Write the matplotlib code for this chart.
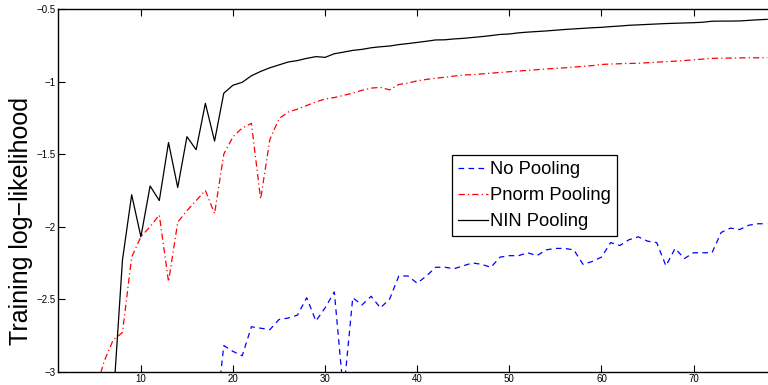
import matplotlib
matplotlib.use("Agg")
import matplotlib.pyplot as plt

plt.rcParams['font.family'] = ['Liberation Sans', 'DejaVu Sans']

# epochs for each series
nin_x = list(range(7, 79))
nin_y = [-3.2, -2.23, -1.78, -2.07, -1.72, -1.82, -1.42, -1.73, -1.38, -1.47,
         -1.15, -1.41, -1.08, -1.025, -1.005, -0.96, -0.93, -0.905, -0.885, -0.865,
         -0.855, -0.84, -0.828, -0.833, -0.808, -0.797, -0.785, -0.778, -0.767, -0.76,
         -0.755, -0.745, -0.738, -0.73, -0.722, -0.713, -0.712, -0.706, -0.702, -0.696,
         -0.69, -0.683, -0.675, -0.672, -0.664, -0.659, -0.655, -0.651, -0.646, -0.641,
         -0.637, -0.633, -0.629, -0.626, -0.621, -0.617, -0.612, -0.609, -0.606, -0.603,
         -0.6, -0.598, -0.596, -0.594, -0.591, -0.584, -0.583, -0.583, -0.582, -0.578,
         -0.574, -0.571]

pnorm_x = list(range(5, 79))
pnorm_y = [-3.15, -2.93, -2.78, -2.73, -2.21, -2.07, -2.00, -1.92, -2.38, -1.97,
           -1.89, -1.82, -1.75, -1.91, -1.50, -1.38, -1.32, -1.288, -1.81, -1.40,
           -1.255, -1.21, -1.19, -1.165, -1.14, -1.12, -1.11, -1.095, -1.08, -1.06,
           -1.045, -1.04, -1.057, -1.02, -1.01, -0.995, -0.985, -0.977, -0.97, -0.962,
           -0.955, -0.952, -0.947, -0.942, -0.937, -0.932, -0.927, -0.923, -0.918, -0.913,
           -0.909, -0.905, -0.9, -0.895, -0.89, -0.882, -0.879, -0.877, -0.875, -0.874,
           -0.87, -0.866, -0.863, -0.859, -0.855, -0.85, -0.845, -0.84, -0.839, -0.838,
           -0.837, -0.836, -0.836, -0.835]

nopool_x = list(range(18, 79))
nopool_y = [-3.4, -2.82, -2.86, -2.89, -2.69, -2.70, -2.71, -2.64, -2.63, -2.61,
            -2.49, -2.65, -2.56, -2.45, -3.15, -2.49, -2.54, -2.48, -2.56, -2.50,
            -2.34, -2.34, -2.39, -2.34, -2.28, -2.28, -2.29, -2.27, -2.25, -2.26,
            -2.28, -2.21, -2.20, -2.20, -2.18, -2.20, -2.16, -2.15, -2.15, -2.16,
            -2.26, -2.24, -2.21, -2.11, -2.13, -2.09, -2.07, -2.10, -2.11, -2.27,
            -2.15, -2.22, -2.18, -2.18, -2.18, -2.04, -2.01, -2.02, -1.99, -1.98,
            -1.98]

labels = ["No Pooling", "Pnorm Pooling", "NIN Pooling"]
xticks = [10, 20, 30, 40, 50, 60, 70]
yticks = [-3, -2.5, -2, -1.5, -1, -0.5]
ytick_labels = ["\u22123", "\u22122.5", "\u22122", "\u22121.5", "\u22121", "\u22120.5"]

fig = plt.figure(figsize=(7.68, 3.85), dpi=100)
ax = fig.add_axes([0.0755, 0.0345, 0.9475, 0.942])

ax.plot(nopool_x, nopool_y, color='blue', linestyle=(0, (4.5, 3.5)), lw=0.9, label=labels[0])
ax.plot(pnorm_x, pnorm_y, color='red', linestyle=(0, (5, 2.5, 1, 2.5)), lw=0.9, label=labels[1])
ax.plot(nin_x, nin_y, color='black', linestyle='-', lw=0.9, label=labels[2])

ax.set_xlim(1, 80)
ax.set_ylim(-3, -0.5)
ax.set_xticks(xticks)
ax.set_yticks(yticks)
ax.set_yticklabels(ytick_labels)
ax.tick_params(direction='in', top=True, right=True, length=5, width=0.8,
               labelsize=7, pad=2)
for s in ax.spines.values():
    s.set_linewidth(1.0)
ax.set_ylabel("Training log\u2212likelihood", fontsize=18)
ax.yaxis.set_label_coords(-0.034, 0.415)

leg = ax.legend(loc='upper left', bbox_to_anchor=(0.541, 0.5975), borderaxespad=0,
                fontsize=13.2, fancybox=False, framealpha=1, edgecolor='black',
                handlelength=1.64, handletextpad=0.1, borderpad=0.33, labelspacing=0.5)
leg.get_frame().set_linewidth(0.9)

fig.savefig("out.png", dpi=100)
